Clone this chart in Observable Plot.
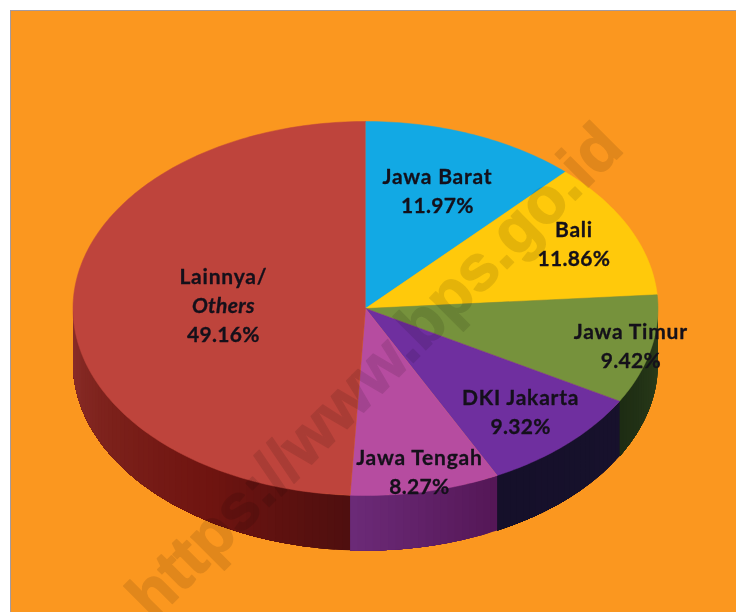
<!DOCTYPE html>
<html>
<head>
<meta charset="utf-8">
<script src="https://cdn.jsdelivr.net/npm/d3@7"></script>
<script src="https://cdn.jsdelivr.net/npm/@observablehq/plot@0.6"></script>
<style>
  html, body { margin: 0; padding: 0; background: #fff; overflow: hidden; }
  #panel { position: absolute; left: 10px; top: 10px; width: 726px; height: 602px; background: #fb971f;
           box-shadow: inset 1px 1px 0 #a49aa0; }
  #panel svg { display: block; background: transparent; filter: blur(0.5px); }
  .lbl-name text, .lbl-name { letter-spacing: 0.8px; }
  .lbl-value text, .lbl-value { letter-spacing: 0.3px; }
</style>
</head>
<body>
<div id="panel"></div>
<script>
// Data
const provinces = ["Jawa Barat", "Bali", "Jawa Timur", "DKI Jakarta", "Jawa Tengah", "Lainnya/"];
const shares = [11.97, 11.86, 9.42, 9.32, 8.27, 49.16];
const shareLabels = ["11.97%", "11.86%", "9.42%", "9.32%", "8.27%", "49.16%"];
const englishNames = [null, null, null, null, null, "Others"];
const watermark = "https://www.bps.go.id";

// Styles and layout
const topColors = ["#12a9e4", "#ffc90b", "#76923c", "#6f2f9f", "#b64ca0", "#be443c"];
const sideColors = [
  ["#12a9e4", "#12a9e4"], ["#8a6c00", "#8a6c00"], ["#2c3e1b", "#1d2c13"],
  ["#17112c", "#15102a"], ["#541656", "#6c2a78"], ["#4e0f0f", "#6f1410", "#7c211b", "#8c2f2b"]
];
const labelRadius = [0.67, 0.79, 0.93, 0.77, 0.897, 0.486];
const W = 726, H = 602, CX = 355, CY = 298, RX = 292.5, RY = 187, DEPTH = 55, LINE = 29;

// Pie geometry derived from the shares (angles clockwise from 12 o'clock)
const rad = d => d * Math.PI / 180;
const px = a => Math.sin(rad(a));
const py = a => Math.cos(rad(a));
const depthU = DEPTH / RY;
let cum = 0;
const slices = provinces.map((name, i) => {
  const a0 = cum * 3.6; cum += shares[i]; const a1 = cum * 3.6;
  return {name, i, a0, a1, mid: (a0 + a1) / 2};
});

const topRows = [];
for (const s of slices) {
  topRows.push({id: s.i, x: 0, y: 0, fill: topColors[s.i]});
  const n = Math.ceil(s.a1 - s.a0);
  for (let k = 0; k <= n; k++) {
    const a = s.a0 + (s.a1 - s.a0) * k / n;
    topRows.push({id: s.i, x: px(a), y: py(a), fill: topColors[s.i]});
  }
}

// Side wall: overlapping strips, painted along the arc so each covers the last
const sideRows = [];
let strip = 0;
for (const s of slices) {
  const from = Math.max(s.a0, 90), to = Math.min(s.a1, 270);
  if (to <= from) continue;
  const ramp = d3.piecewise(d3.interpolateRgb, sideColors[s.i]);
  const n = Math.ceil((to - from) / 1.5);
  for (let k = 0; k < n; k++) {
    const a = from + (to - from) * k / n;
    const color = ramp((k + 0.5) / n);
    const id = String(strip++).padStart(4, "0");
    const arc = [];
    const steps = Math.max(1, Math.ceil((to - a) / 1.5));
    for (let j = 0; j <= steps; j++) arc.push(a + (to - a) * j / steps);
    for (const t of arc) sideRows.push({id, x: px(t), y: py(t), fill: color});
    for (const t of arc.slice().reverse()) sideRows.push({id, x: px(t), y: py(t) - depthU, fill: color});
  }
}

const labelRows = [];
for (const s of slices) {
  const lines = [{t: s.name, kind: "name"}];
  if (englishNames[s.i]) lines.push({t: englishNames[s.i], kind: "italic"});
  lines.push({t: shareLabels[s.i], kind: "value"});
  const r = labelRadius[s.i];
  lines.forEach((l, k) => {
    const off = (k - (lines.length - 1) / 2) * LINE / RY;
    labelRows.push({text: l.t, kind: l.kind, x: r * px(s.mid), y: r * py(s.mid) - off});
  });
}

const font = {fontFamily: "Lato", fontWeight: 700, fontSize: 21, fill: "#14101a", stroke: "#14101a", strokeWidth: 0.3, textAnchor: "middle", lineAnchor: "middle"};

const chart = Plot.plot({
  width: W, height: H, margin: 0,
  x: {domain: [-CX / RX, (W - CX) / RX], range: [0, W], axis: null},
  y: {domain: [CY / RY, (CY - H) / RY], range: [0, H], axis: null},
  color: {type: "identity"},
  marks: [
    Plot.line(sideRows, {x: "x", y: "y", z: "id", fill: "fill"}),
    Plot.line(topRows, {x: "x", y: "y", z: "id", fill: "fill", stroke: "fill", strokeWidth: 0.5}),
    Plot.text([watermark], {
      x: () => 0.032, y: () => -0.337, text: d => d, rotate: -45,
      fontFamily: "Liberation Sans", fontWeight: 700, fontSize: 64.5,
      fill: "#000", stroke: "#000", strokeWidth: 1.5, opacity: 0.1, textAnchor: "middle", lineAnchor: "middle"
    }),
    Plot.text(labelRows.filter(d => d.kind === "name"), {x: "x", y: "y", text: "text", className: "lbl-name", ...font}),
    Plot.text(labelRows.filter(d => d.kind === "italic"), {x: "x", y: "y", text: "text", fontStyle: "italic", className: "lbl-value", ...font}),
    Plot.text(labelRows.filter(d => d.kind === "value"), {x: "x", y: "y", text: "text", className: "lbl-value", ...font})
  ]
});
document.getElementById("panel").appendChild(chart);
</script>
</body>
</html>
